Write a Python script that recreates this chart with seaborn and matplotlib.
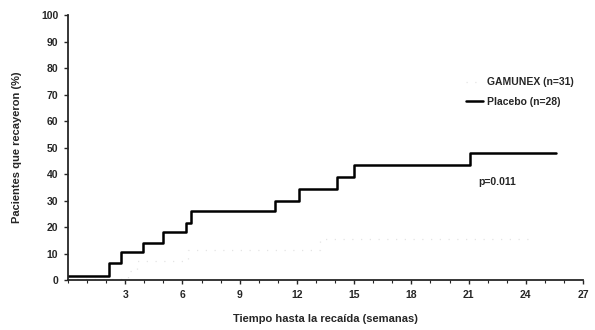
import numpy as np
import pandas as pd
import matplotlib
matplotlib.use('Agg')
import matplotlib.pyplot as plt
import seaborn as sns
from matplotlib.ticker import MultipleLocator

# Placebo curve (step times in weeks, cumulative % relapsed)
placeboWeeks = [0, 2.15, 2.8, 3.95, 5.0, 6.2, 6.45, 10.85, 12.1, 14.1, 15.0, 21.05, 25.6]
placeboPct = [1.5, 6.5, 10.5, 14, 18, 21.5, 26, 30, 34.5, 39, 43.5, 48, 48]

# GAMUNEX curve (faint dotted in the original)
gamunexWeeks = [0, 3.15, 3.6, 6.3, 13.2, 24.5]
gamunexPct = [0.5, 3.5, 7, 11.5, 15.5, 15.5]

xTicks = [3, 6, 9, 12, 15, 18, 21, 24, 27]
xTickLabels = ['3', '6', '9', '12', '15', '18', '21', '24', '27']
yTicks = [0, 10, 20, 30, 40, 50, 60, 70, 80, 90, 100]

sns.set_style("ticks")
plt.rcParams['font.family'] = ['Liberation Sans', 'DejaVu Sans']
plt.rcParams['font.weight'] = 'bold'

fig = plt.figure(figsize=(5.95, 3.3), dpi=100)
ax = fig.add_axes([0.1143, 0.1515, 0.8657, 0.803])

gamunexDf = pd.DataFrame({'week': gamunexWeeks, 'pct': gamunexPct})
placeboDf = pd.DataFrame({'week': placeboWeeks, 'pct': placeboPct})

sns.lineplot(data=gamunexDf, x='week', y='pct', ax=ax, drawstyle='steps-post',
             color='#e4e4e4', linewidth=0.9, linestyle=(0, (1, 6)),
             label='GAMUNEX (n=31)')
sns.lineplot(data=placeboDf, x='week', y='pct', ax=ax, drawstyle='steps-post',
             color='black', linewidth=1.8, label='Placebo (n=28)')

ax.set_xlim(0, 27)
ax.set_ylim(0, 100)
ax.set_xticks(xTicks)
ax.set_xticklabels(xTickLabels)
ax.set_yticks(yTicks)
ax.xaxis.set_minor_locator(MultipleLocator(1))
ax.tick_params(axis='both', which='major', labelsize=7.5, length=3, width=1.0, pad=4)
ax.tick_params(axis='both', which='minor', length=2, width=0.8)
for lbl in ax.get_xticklabels() + ax.get_yticklabels():
    lbl.set_fontweight('bold')

sns.despine(ax=ax)
ax.spines['left'].set_linewidth(1.3)
ax.spines['bottom'].set_linewidth(1.3)

ax.set_xlabel('Tiempo hasta la recaída (semanas)', fontsize=8, fontweight='bold', labelpad=10)
ax.set_ylabel('Pacientes que recayeron (%)', fontsize=8, fontweight='bold', labelpad=14)

ax.text(21.5, 37, 'p=0.011', fontsize=7.5, fontweight='bold', va='center', ha='left')

leg = ax.legend(loc='upper left', bbox_to_anchor=(0.755, 0.80), frameon=False,
                fontsize=7.5, handlelength=1.6, handletextpad=0.4, labelspacing=0.9)
for t in leg.get_texts():
    t.set_fontweight('bold')

plt.savefig('out.png', dpi=100)
plt.close()
